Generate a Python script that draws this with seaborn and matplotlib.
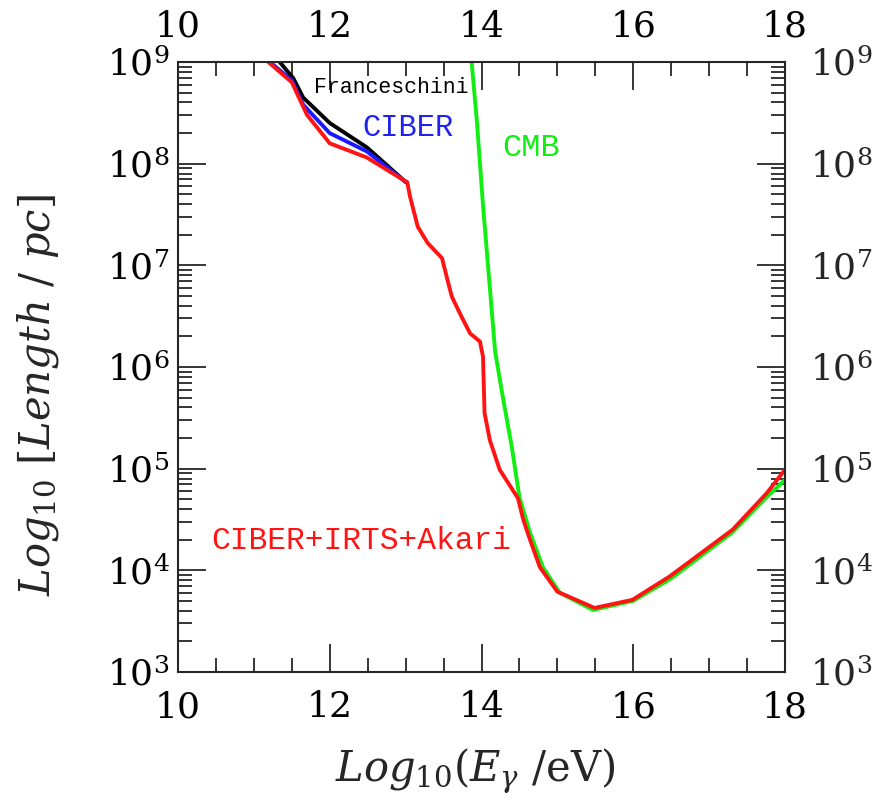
import numpy as np
import pandas as pd
import matplotlib
matplotlib.use("Agg")
import matplotlib.pyplot as plt
import seaborn as sns
from matplotlib.ticker import MultipleLocator, FixedLocator, NullFormatter, NullLocator

# ---- data (log10 E / eV , log10 Length / pc) ----
red_E = [11.15, 11.19, 11.5, 11.7, 12.0, 12.49, 12.97, 13.02, 13.06, 13.16, 13.29, 13.48,
         13.54, 13.61, 13.74, 13.85, 13.98, 14.02, 14.04, 14.11, 14.24, 14.48, 14.55,
         14.64, 14.77, 15.0, 15.49, 15.99, 16.48, 17.31, 17.76, 18.0]
red_L = [9.04, 9.0, 8.8, 8.48, 8.2, 8.06, 7.84, 7.82, 7.67, 7.38, 7.22, 7.07,
         6.89, 6.69, 6.49, 6.33, 6.25, 6.1, 5.55, 5.28, 4.99, 4.71, 4.5,
         4.30, 4.03, 3.79, 3.63, 3.71, 3.94, 4.40, 4.76, 4.99]

blue_E = [11.17, 11.21, 11.5, 11.65, 12.0, 12.49, 13.0]
blue_L = [9.03, 9.0, 8.82, 8.58, 8.3, 8.12, 7.82]

black_E = [11.3, 11.34, 11.52, 11.65, 12.0, 12.49, 13.0]
black_L = [9.04, 9.0, 8.84, 8.65, 8.4, 8.16, 7.82]

green_E = [13.86, 13.87, 13.94, 14.02, 14.11, 14.18, 14.28, 14.4, 14.5, 14.64, 14.81, 15.03,
           15.47, 16.0, 16.5, 17.3, 17.76, 18.0]
green_L = [9.1, 9.0, 8.41, 7.59, 6.78, 6.15, 5.71, 5.21, 4.72, 4.37, 4.03, 3.78,
           3.61, 3.70, 3.92, 4.37, 4.72, 4.89]

x_ticks = [10, 12, 14, 16, 18]
y_ticks = [1e3, 1e4, 1e5, 1e6, 1e7, 1e8, 1e9]
y_minor = [m * 10.0**d for d in range(3, 9) for m in range(2, 10)]

sns.set_style("ticks")
plt.rcParams["font.family"] = ["DejaVu Serif"]
plt.rcParams["mathtext.fontset"] = "dejavuserif"

fig = plt.figure(figsize=(8.8, 7.98), dpi=100)
ax = fig.add_axes([178/880, 1-672/798, (785-178)/880, (672-62)/798])

def frame(E, L, name):
    return pd.DataFrame({"E": E, "L": 10**np.array(L), "s": name})

series = [
    (black_E, black_L, "Franceschini", "#000000"),
    (blue_E, blue_L, "CIBER", "#1a1aff"),
    (green_E, green_L, "CMB", "#11ee11"),
    (red_E, red_L, "CIBER+IRTS+Akari", "#ff1414"),
]
for E, L, name, col in series:
    sns.lineplot(data=frame(E, L, name), x="E", y="L", color=col, lw=2.8,
                 ax=ax, sort=False, legend=False)

ax.set_yscale("log")
ax.set_xlim(10, 18)
ax.set_ylim(1e3, 1e9)
ax.set_xticks(x_ticks)
ax.xaxis.set_minor_locator(MultipleLocator(0.5))
ax.yaxis.set_major_locator(FixedLocator(y_ticks))
ax.yaxis.set_minor_locator(FixedLocator(y_minor))
ax.yaxis.set_minor_formatter(NullFormatter())

for s in ax.spines.values():
    s.set_linewidth(1.5)
    s.set_visible(True)

ax.tick_params(which="both", direction="in", top=True, right=True,
               labeltop=True, labelright=False, width=1.1, colors="black")
ax.tick_params(which="major", length=20, labelsize=26)
ax.tick_params(which="minor", length=10)
ax.tick_params(axis="x", which="major", pad=13)
ax.tick_params(axis="y", which="major", pad=6)

# right-hand labels with their own spacing
sec = ax.secondary_yaxis("right")
sec.yaxis.set_major_locator(FixedLocator(y_ticks))
sec.yaxis.set_minor_locator(NullLocator())
sec.tick_params(which="major", length=0, labelsize=26, pad=18)
sec.spines["right"].set_visible(False)

ax.set_xlabel(r"$Log_{10}(E_\gamma\ /\mathrm{eV})$", fontsize=30)
ax.set_ylabel(r"$Log_{10}\ [Length\ /\ pc]$", fontsize=30)
ax.xaxis.set_label_coords(0.49, -0.122)
ax.yaxis.set_label_coords(-0.193, 0.454)

mono = ["Liberation Mono", "DejaVu Sans Mono"]
ax.text(12.81, 10**8.754, "Franceschini", color="black", fontsize=15.5,
        family=mono, ha="center", va="center")
ax.text(13.03, 10**8.35, "CIBER", color="#2222ee", fontsize=22,
        family=mono, ha="center", va="center")
ax.text(14.65, 10**8.15, "CMB", color="#11ee11", fontsize=23,
        family=mono, ha="center", va="center")
ax.text(12.41, 10**4.29, "CIBER+IRTS+Akari", color="#ff1414", fontsize=22.5,
        family=mono, ha="center", va="center")

fig.savefig("out.png", dpi=100, facecolor="white")
